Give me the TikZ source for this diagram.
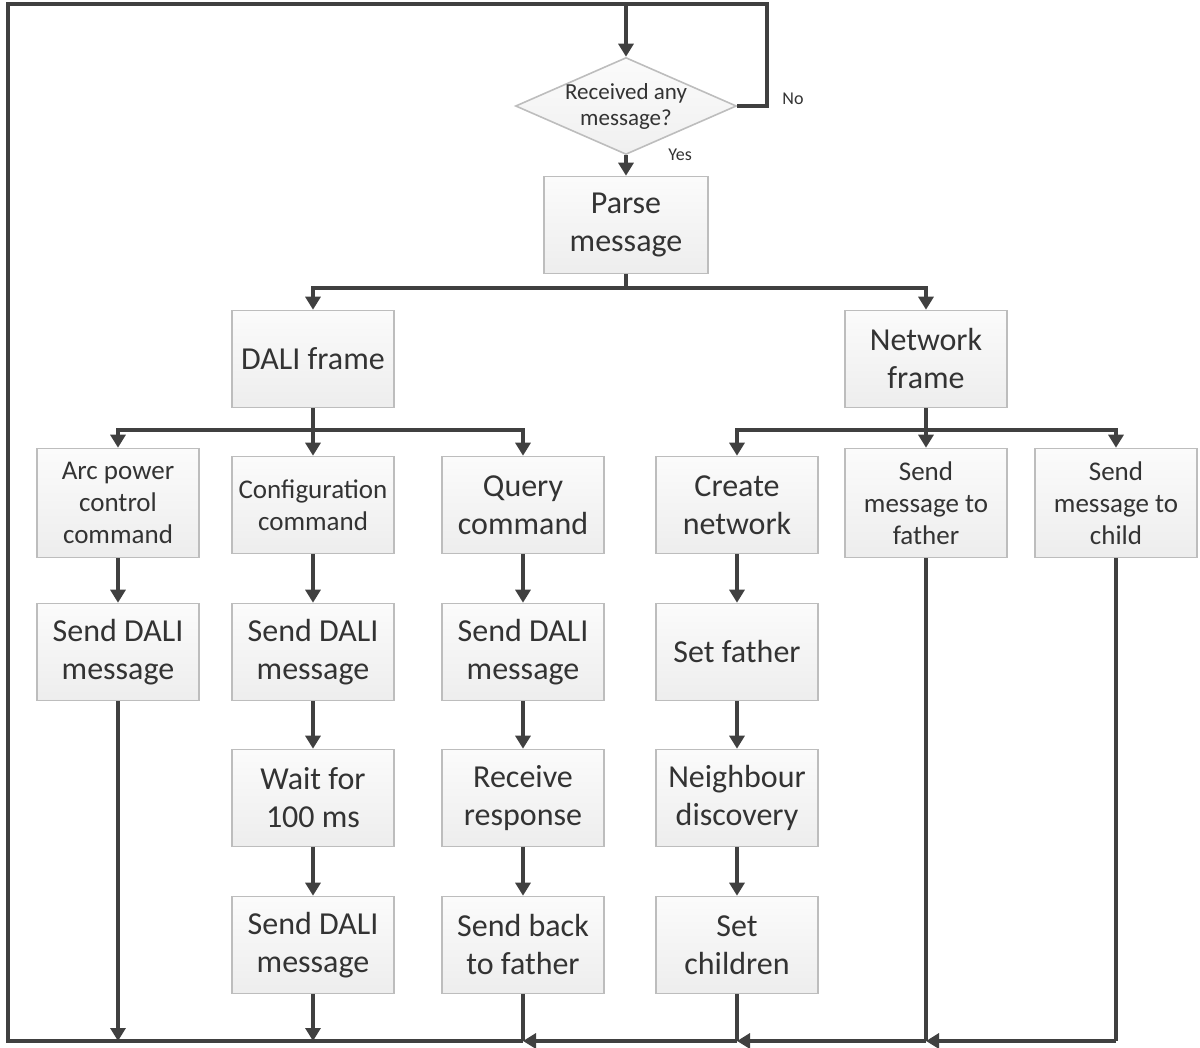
\documentclass[tikz,border=0pt]{standalone}
\usepackage{fontspec}
\setmainfont{Carlito}
\usetikzlibrary{arrows.meta,shapes.geometric}
\definecolor{linec}{HTML}{404040}
\definecolor{boxedge}{HTML}{BDBDBD}
\definecolor{txtc}{HTML}{333333}
\begin{document}
\begin{tikzpicture}[x=0.5pt,y=-0.5pt,
  stepbox/.style={draw=boxedge, line width=0.8pt, top color=gray!3, bottom color=gray!14,
    minimum width=81pt, minimum height=48.5pt, inner sep=2pt, align=center, text=txtc,
    font=\fontsize{16}{19}\selectfont},
  smallbox/.style={stepbox, font=\fontsize{13.5}{16}\selectfont},
  tallbox/.style={smallbox, minimum height=54.5pt},
  decision/.style={diamond, draw=boxedge, line width=0.8pt, top color=gray!3, bottom color=gray!12,
    minimum width=110.5pt, minimum height=48.5pt, inner sep=0pt},
  dectext/.style={align=center, text=txtc, font=\fontsize{11.5}{13}\selectfont, inner sep=0pt},
  tag/.style={text=txtc, font=\fontsize{9}{10}\selectfont, inner sep=0pt},
  wire/.style={draw=linec, line width=1.6pt},
  flow/.style={wire, -{Triangle[width=7.5pt,length=6.5pt]}},
]
\useasboundingbox (0,0) rectangle (1200,1048);

% decision and parsing
\node[decision] (dec) at (626,106) {};
\node[dectext] (dectxt) at (626,106) {Received any\\message?};
\node[stepbox, minimum width=82pt] (parse) at (626,225) {Parse\\message};

% frame types
\node[stepbox] (dali) at (313,359) {DALI frame};
\node[stepbox] (net) at (926,359) {Network\\frame};

% command / network action heads
\node[tallbox] (arc) at (118,503) {Arc power\\control\\command};
\node[smallbox] (cfg) at (313,505) {Configuration\\command};
\node[stepbox] (qry) at (523,505) {Query\\command};
\node[stepbox] (crt) at (737,505) {Create\\network};
\node[tallbox] (sfa) at (926,503) {Send\\message to\\father};
\node[tallbox] (sch) at (1116,503) {Send\\message to\\child};

% second step
\node[stepbox] (sd1) at (118,652) {Send DALI\\message};
\node[stepbox] (sd2) at (313,652) {Send DALI\\message};
\node[stepbox] (sd3) at (523,652) {Send DALI\\message};
\node[stepbox] (setf) at (737,652) {Set father};

% third step
\node[stepbox] (wait) at (313,798) {Wait for\\100 ms};
\node[stepbox] (recv) at (523,798) {Receive\\response};
\node[stepbox] (nbr) at (737,798) {Neighbour\\discovery};

% fourth step
\node[stepbox] (sd4) at (313,945) {Send DALI\\message};
\node[stepbox] (back) at (523,945) {Send back\\to father};
\node[stepbox] (setc) at (737,945) {Set\\children};

% loop and return lines
\coordinate (topL) at (8,4);
\coordinate (topR) at (767,4);
\coordinate (botL) at (8,1041);
\coordinate (botR) at (1116,1041);
\coordinate (j1) at (118,1041);
\coordinate (j2) at (313,1041);
\coordinate (j3) at (523,1041);
\coordinate (j4) at (737,1041);
\coordinate (j5) at (926,1041);
\coordinate (split1) at (626,288);
\coordinate (split2) at (313,430);
\coordinate (split3) at (926,430);

\draw[wire] (dec.east) -- (dec.east -| topR) -- (topR) -- (topL) -- (botL) -- (j3);
\draw[flow] (dec.north |- topL) -- (dec.north);
\draw[flow] (dec.south) -- (parse.north);
\node[tag, anchor=west] (no) at (782,99) {No};
\node[tag, anchor=west] (yes) at (668,155) {Yes};

% branching
\draw[wire] (parse.south) -- (split1);
\draw[flow] (split1) -| (dali.north);
\draw[flow] (split1) -| (net.north);
\draw[wire] (dali.south) -- (split2);
\draw[flow] (split2) -| (arc.north);
\draw[flow] (split2) -- (cfg.north);
\draw[flow] (split2) -| (qry.north);
\draw[wire] (net.south) -- (split3);
\draw[flow] (split3) -| (crt.north);
\draw[flow] (split3) -- (sfa.north);
\draw[flow] (split3) -| (sch.north);

% chains
\draw[flow] (arc) -- (sd1);
\draw[flow] (cfg) -- (sd2);
\draw[flow] (sd2) -- (wait);
\draw[flow] (wait) -- (sd4);
\draw[flow] (qry) -- (sd3);
\draw[flow] (sd3) -- (recv);
\draw[flow] (recv) -- (back);
\draw[flow] (crt) -- (setf);
\draw[flow] (setf) -- (nbr);
\draw[flow] (nbr) -- (setc);

% return to the bottom line
\draw[flow] (sd1.south) -- (j1);
\draw[flow] (sd4.south) -- (j2);
\draw[wire] (sch.south) -- (botR);
\draw[flow] (botR) -- (j5);
\draw[wire] (sfa.south) -- (j5);
\draw[flow] (j5) -- (j4);
\draw[wire] (setc.south) -- (j4);
\draw[flow] (j4) -- (j3);
\draw[wire] (back.south) -- (j3);
\end{tikzpicture}
\end{document}
